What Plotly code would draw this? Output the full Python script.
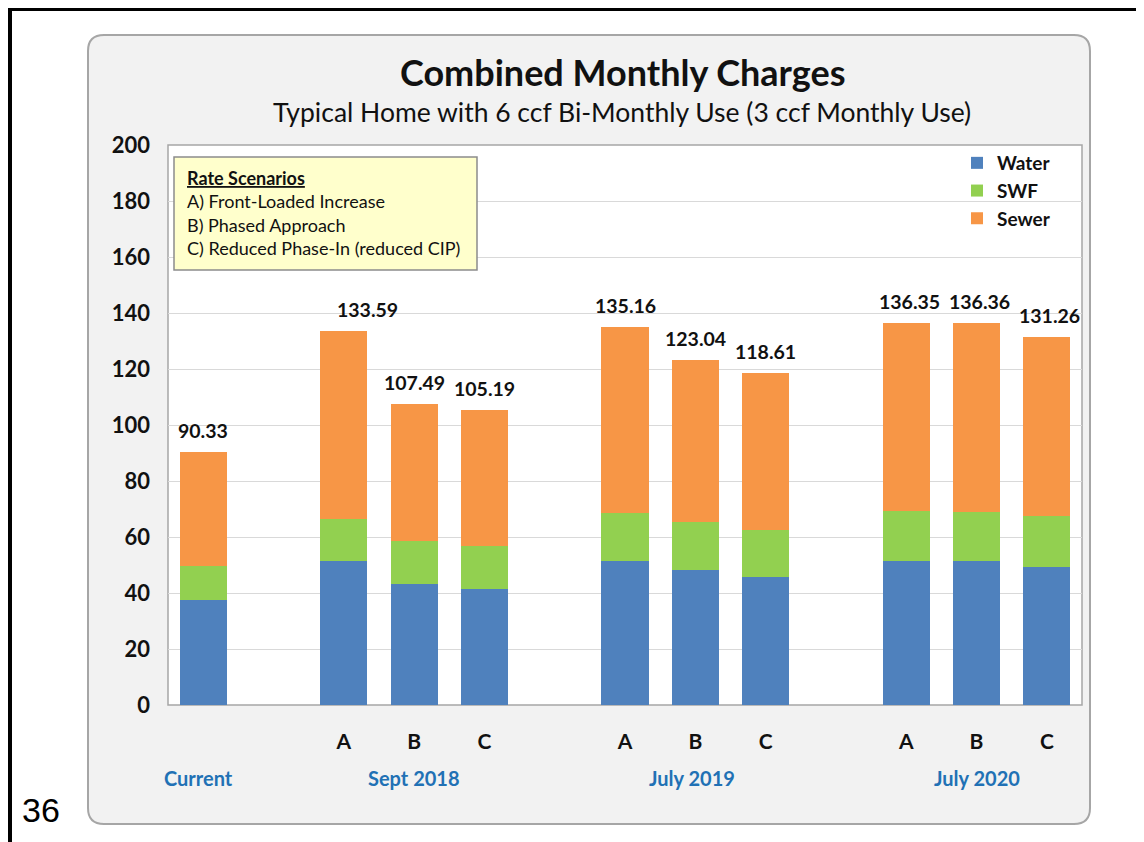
import plotly.graph_objects as go

# ---------------- data ----------------
periods = ["Current", "Sept 2018", "July 2019", "July 2020"]
scenarios = [[""], ["A", "B", "C"], ["A", "B", "C"], ["A", "B", "C"]]
water = [37.4, 51.4, 43.2, 41.4, 51.4, 48.1, 45.7, 51.4, 51.4, 49.3]
swf = [12.1, 15.2, 15.5, 15.5, 17.0, 17.2, 16.9, 18.0, 17.5, 18.2]
totals = [90.33, 133.59, 107.49, 105.19, 135.16, 123.04, 118.61, 136.35, 136.36, 131.26]
sewer = [round(t - w - s, 2) for t, w, s in zip(totals, water, swf)]
rate_lines = ["A) Front-Loaded Increase", "B) Phased Approach", "C) Reduced Phase-In (reduced CIP)"]

# slot positions: one empty slot between period groups
xpos, ticktext, group_centers = [], [], []
slot = 0
for p, sc in zip(periods, scenarios):
    start = slot
    for s in sc:
        xpos.append(slot)
        ticktext.append(s)
        slot += 1
    group_centers.append((start + slot - 1) / 2)
    slot += 1
tick_vals = [x for x, t in zip(xpos, ticktext) if t]
tick_txt = [t for t in ticktext if t]

# ---------------- layout geometry ----------------
# page body has an 8px margin, so the figure is offset by 8px; coords below are page pixels
OFF = 8
W, H = 1144 - OFF, 842 - OFF
L, R, T, B = 168, 1082, 145, 705          # plot area in page pixels
def px(xp): return (xp - L) / (R - L)
def py(yp): return 1 - (yp - T) / (B - T)

FONT = "Lato"
C_WATER, C_SWF, C_SEWER = "#4f81bd", "#92d050", "#f79646"
label_xshift = {1: 24, 7: 3, 8: 3, 9: 3}   # manual label nudges as in the original
group_xshift = {0: -5, 2: -3}

fig = go.Figure()
for name, vals, col in [("Water", water, C_WATER), ("SWF", swf, C_SWF), ("Sewer", sewer, C_SEWER)]:
    fig.add_trace(go.Bar(x=xpos, y=vals, name=f"<b>{name}</b>", marker=dict(color=col, line=dict(width=0)),
                         width=0.67, hovertemplate=name + ": %{y}<extra></extra>"))

annotations = []
for i, (x, t) in enumerate(zip(xpos, totals)):
    annotations.append(dict(x=x, y=t, text=f"<b>{t:.2f}</b>", showarrow=False, yanchor="bottom",
                            yshift=8, xshift=label_xshift.get(i, 0),
                            font=dict(family=FONT, size=19.5, color="#111111")))
for i, (gc, p) in enumerate(zip(group_centers, periods)):
    annotations.append(dict(x=gc, y=py(778), yref="paper", text=f"<b>{p}</b>", showarrow=False,
                            yanchor="middle", xshift=group_xshift.get(i, 0),
                            font=dict(family=FONT, size=20, color="#2171b5")))

# title & subtitle
annotations.append(dict(x=px(623), y=py(72), xref="paper", yref="paper", showarrow=False,
                        text="<b>Combined Monthly Charges</b>", yanchor="middle",
                        font=dict(family=FONT, size=36, color="#111111")))
annotations.append(dict(x=px(622), y=py(112), xref="paper", yref="paper", showarrow=False,
                        text="Typical Home with 6 ccf Bi-Monthly Use (3 ccf Monthly Use)", yanchor="middle",
                        font=dict(family=FONT, size=26.5, color="#111111")))

# rate scenario box text
box_lines = ["<b><u>Rate Scenarios</u></b>"] + rate_lines
for i, ln in enumerate(box_lines):
    annotations.append(dict(x=px(185), y=py(178 + i * 23.3), xref="paper", yref="paper", showarrow=False,
                            text=ln, xanchor="left", yanchor="middle",
                            font=dict(family=FONT, size=18, color="#111111")))

# slide page number
annotations.append(dict(x=px(41), y=py(810), xref="paper", yref="paper", showarrow=False,
                        text="36", xanchor="center", yanchor="middle",
                        font=dict(family="Liberation Sans, Arial", size=34, color="#000000")))

# rounded chart frame
def rounded_path(x0, y0, x1, y1, r):
    return (f"M {px(x0 + r)},{py(y0)} L {px(x1 - r)},{py(y0)} Q {px(x1)},{py(y0)} {px(x1)},{py(y0 + r)} "
            f"L {px(x1)},{py(y1 - r)} Q {px(x1)},{py(y1)} {px(x1 - r)},{py(y1)} "
            f"L {px(x0 + r)},{py(y1)} Q {px(x0)},{py(y1)} {px(x0)},{py(y1 - r)} "
            f"L {px(x0)},{py(y0 + r)} Q {px(x0)},{py(y0)} {px(x0 + r)},{py(y0)} Z")

shapes = [
    dict(type="path", path=rounded_path(88, 35, 1090, 824, 16), xref="paper", yref="paper",
         fillcolor="#f2f2f2", line=dict(color="#a6a6a6", width=2), layer="below"),
    dict(type="rect", x0=0, x1=1, y0=0, y1=1, xref="paper", yref="paper",
         fillcolor="#ffffff", line=dict(color="#a6a6a6", width=1.5), layer="below"),
    dict(type="rect", x0=px(174), x1=px(477), y0=py(157), y1=py(270), xref="paper", yref="paper",
         fillcolor="#ffffcc", line=dict(color="#8c8c8c", width=1.5), layer="above"),
    # slide black frame
    dict(type="rect", x0=px(8), x1=px(1160), y0=py(0), y1=py(11), xref="paper", yref="paper",
         fillcolor="#000000", line=dict(width=0), layer="above"),
    dict(type="rect", x0=px(8), x1=px(12), y0=py(0), y1=py(860), xref="paper", yref="paper",
         fillcolor="#000000", line=dict(width=0), layer="above"),
]

fig.update_layout(
    width=W, height=H, barmode="stack", bargap=0,
    margin=dict(l=L - OFF, r=W - (R - OFF), t=T - OFF, b=H - (B - OFF), autoexpand=False),
    paper_bgcolor="#ffffff", plot_bgcolor="#ffffff",
    font=dict(family=FONT, color="#111111"),
    showlegend=True,
    legend=dict(x=px(957), y=py(144), xanchor="left", yanchor="top", traceorder="normal",
                bgcolor="rgba(255,255,255,0)", font=dict(family=FONT, size=19, color="#111111"),
                itemsizing="constant", tracegroupgap=0),
    annotations=annotations, shapes=shapes,
    xaxis=dict(range=[-0.5, slot - 1.5], tickvals=tick_vals, ticktext=[f"<b>{t}</b>" for t in tick_txt],
               showgrid=False, zeroline=False, showline=False, ticks="",
               tickfont=dict(family=FONT, size=21, color="#111111"), ticklabelstandoff=22),
    yaxis=dict(range=[0, 200], dtick=20, showgrid=True, gridcolor="#d9d9d9", gridwidth=1.3,
               zeroline=False, showline=False, ticks="", tickformat="d",
               tickprefix="<b>", ticksuffix="</b>",
               tickfont=dict(family=FONT, size=22, color="#111111"), ticklabelstandoff=17),
)

fig.write_html("out.html")
